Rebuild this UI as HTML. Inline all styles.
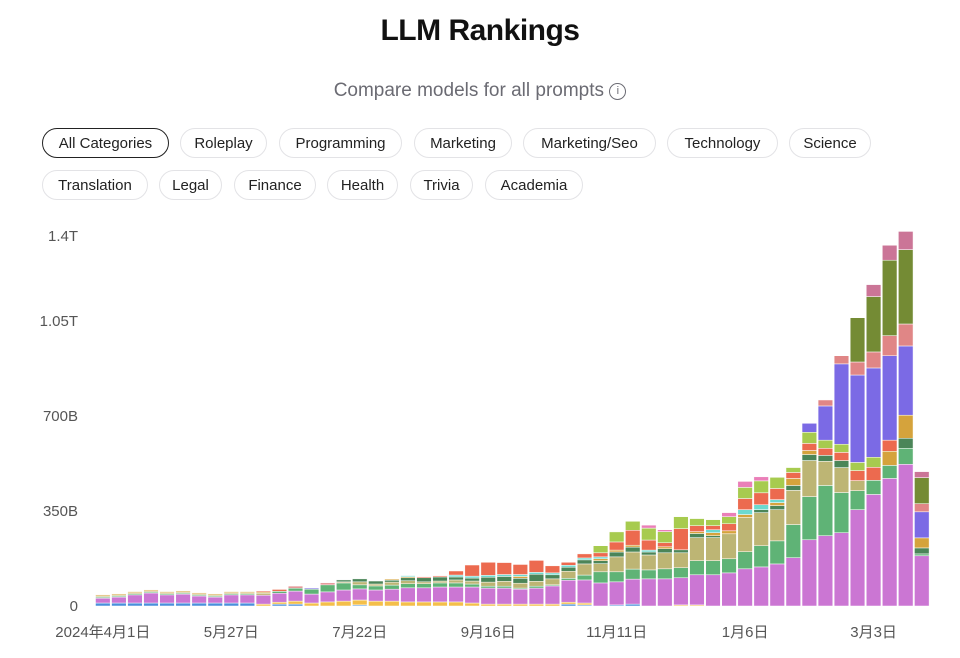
<!DOCTYPE html>
<html><head><meta charset="utf-8">
<style>
body{margin:0;width:960px;height:658px;background:#fff;font-family:"Liberation Sans","Noto Sans CJK JP",sans-serif;overflow:hidden;position:relative}
.title{position:absolute;left:0;width:960px;top:14px;text-align:center;font-size:30px;font-weight:bold;color:#111;letter-spacing:-0.5px}
.sub{position:absolute;left:0;width:960px;top:80px;text-align:center;font-size:19px;color:#6b6b73}
.pill{position:absolute;height:30px;line-height:30px;border:1px solid #e3e3e6;border-radius:16px;text-align:center;font-size:15px;color:#222;box-sizing:border-box;white-space:nowrap}
.pill.active{border:1.5px solid #222}
</style></head><body>
<div class="title">LLM Rankings</div>
<div class="sub">Compare models for all prompts <span style="display:inline-block;width:15px;height:15px;border:1.3px solid #6b6b73;border-radius:50%;font-size:11px;line-height:15px;vertical-align:2px;">i</span></div>
<div>
<div class="pill active" style="left:42px;top:128px;width:127px">All Categories</div>
<div class="pill" style="left:180px;top:128px;width:87px">Roleplay</div>
<div class="pill" style="left:279px;top:128px;width:123px">Programming</div>
<div class="pill" style="left:414px;top:128px;width:98px">Marketing</div>
<div class="pill" style="left:523px;top:128px;width:133px">Marketing/Seo</div>
<div class="pill" style="left:667px;top:128px;width:111px">Technology</div>
<div class="pill" style="left:789px;top:128px;width:82px">Science</div>
<div class="pill" style="left:42px;top:170px;width:106px">Translation</div>
<div class="pill" style="left:159px;top:170px;width:63px">Legal</div>
<div class="pill" style="left:234px;top:170px;width:82px">Finance</div>
<div class="pill" style="left:327px;top:170px;width:71px">Health</div>
<div class="pill" style="left:410px;top:170px;width:63px">Trivia</div>
<div class="pill" style="left:485px;top:170px;width:98px">Academia</div>
</div>
<svg id="chart" width="960" height="658" style="position:absolute;left:0;top:0"></svg>
<script>
const yTicks=[0,350,700,1050,1400];
const yTickLabels=["0","350B","700B","1.05T","1.4T"];
const xTickIndex=[0,8,16,24,32,40,48];
const xTickLabels=["2024年4月1日","5月27日","7月22日","9月16日","11月11日","1月6日","3月3日"];
const seriesNames=["blue","yellow","magenta","green","khaki","darkgreen","gold","teal","red","lightgreen","pink","purple","salmon","olive","mauve"];
const seriesColors=["#4a8fdc","#f4bf4a","#cb76d3","#5fb376","#bdb574","#4b8558","#d5a33c","#6cd9cf","#ec6a4f","#a7cb4f","#ea7fb8","#7b6ae5","#e08686","#748b34","#cb7597"];
const blue=[11,11,11,11,11,11,11,11,11,11,0,7,7,0,0,0,4,0,0,0,0,0,0,0,0,0,0,0,0,7,4,0,4,7,0,0,0,0,0,0,0,0,0,0,0,0,0,0,0,0,0,0];
const yellow=[0,0,0,0,0,0,0,0,0,0,7,7,11,11,15,18,18,18,18,15,15,15,15,11,7,7,7,7,7,7,7,0,0,0,0,0,4,4,0,0,0,0,0,0,0,0,0,0,0,0,0,0];
const magenta=[18,22,30,37,30,33,26,22,30,30,33,33,37,33,37,41,41,41,44,52,52,55,55,59,59,59,55,59,67,81,85,85,85,92,100,100,100,111,115,122,137,144,155,178,244,259,270,355,411,470,522,185];
const green=[4,4,4,4,4,4,4,4,4,4,0,7,11,18,26,26,15,15,15,15,15,15,15,11,7,7,4,7,4,7,18,41,37,37,33,37,37,52,52,52,63,78,85,122,159,185,148,70,52,48,59,7];
const khaki=[4,4,4,4,4,4,4,4,4,4,7,0,0,0,0,4,11,7,11,11,7,7,11,11,15,18,18,18,22,26,41,30,55,63,55,59,55,85,85,92,126,122,115,126,133,89,92,37,0,0,0,0];
const darkgreen=[0,0,0,0,0,0,0,0,0,0,0,0,0,0,0,7,11,11,7,11,15,15,11,11,18,18,18,26,15,15,15,11,18,18,11,15,11,15,7,0,0,11,15,18,22,22,26,0,0,0,37,22];
const gold=[4,4,4,4,4,4,4,4,4,4,4,0,0,0,0,0,0,0,4,4,0,0,0,0,0,0,7,0,0,0,0,7,7,7,0,7,0,7,11,11,11,0,11,26,15,0,0,0,0,52,85,37];
const teal=[0,0,0,0,0,0,0,0,0,0,0,0,0,0,0,0,0,0,0,4,0,0,7,7,7,7,7,7,7,7,7,7,0,0,7,0,0,0,11,0,18,18,11,0,0,0,0,0,0,0,0,0];
const red=[0,0,0,0,0,0,0,0,0,0,4,7,0,0,0,0,0,0,0,0,4,4,15,41,48,44,37,44,26,11,15,15,30,55,37,15,78,22,15,26,41,44,41,22,26,26,30,37,48,41,0,0];
const lightgreen=[0,0,0,0,0,0,0,0,0,0,0,0,0,0,0,0,0,0,0,0,0,0,0,0,0,0,0,0,0,0,0,26,37,33,44,41,44,26,22,26,41,44,41,18,41,30,30,30,37,0,0,0];
const pink=[0,0,0,0,0,0,0,0,0,0,0,0,0,0,0,0,0,0,0,0,0,0,0,0,0,0,0,0,0,0,0,0,0,0,11,7,0,0,0,15,22,15,0,0,0,0,0,0,0,0,0,0];
const purple=[0,0,0,0,0,0,0,0,0,0,0,0,0,4,0,0,0,0,0,0,0,0,0,0,0,0,0,0,0,0,0,0,0,0,0,0,0,0,0,0,0,0,0,0,33,126,296,322,329,311,255,96];
const salmon=[0,0,0,0,0,0,0,0,0,0,0,0,7,0,7,0,0,0,0,0,0,0,0,0,0,0,0,0,0,0,0,0,0,0,0,0,0,0,0,0,0,0,0,0,0,22,30,48,59,74,81,30];
const olive=[0,0,0,0,0,0,0,0,0,0,0,0,0,0,0,0,0,0,0,0,0,0,0,0,0,0,0,0,0,0,0,0,0,0,0,0,0,0,0,0,0,0,0,0,0,0,0,163,204,278,274,96];
const mauve=[0,0,0,0,0,0,0,0,0,0,0,0,0,0,0,0,0,0,0,0,0,0,0,0,0,0,0,0,0,0,0,0,0,0,0,0,0,0,0,0,0,0,0,0,0,0,0,0,44,55,67,22];
const seriesValues=[blue,yellow,magenta,green,khaki,darkgreen,gold,teal,red,lightgreen,pink,purple,salmon,olive,mauve];

const svg=document.getElementById('chart');
const NS='http://www.w3.org/2000/svg';
const nBars=magenta.length;
const y0=606, pxPer=95/350;
const x0=95.5, pitch=(930.5-95.5)/nBars, bw=pitch-1.4;
function yScale(v){return y0-v*pxPer;}
function xScale(i){return x0+i*pitch;}
function mk(tag,attrs){const e=document.createElementNS(NS,tag);for(const k in attrs)e.setAttribute(k,attrs[k]);return e;}

const yAxis=mk('g',{});


svg.appendChild(yAxis);
yTicks.forEach((t,i)=>{
  let yy=yScale(t)+5; if(i===yTicks.length-1) yy+=10;
  const tx=mk('text',{x:78,y:yy,'text-anchor':'end','font-size':'15',fill:'#555','font-family':'Liberation Sans, sans-serif'});
  
  
  tx.textContent=yTickLabels[i];yAxis.appendChild(tx);
});
const xAxis=mk('g',{});


svg.appendChild(xAxis);
xTickIndex.forEach((bi,i)=>{
  const tx=mk('text',{x:xScale(bi)+bw/2,y:637,'text-anchor':'middle','font-size':'15',fill:'#555','font-family':'Liberation Sans, Noto Sans CJK JP, sans-serif'});
  
  
  tx.textContent=xTickLabels[i];xAxis.appendChild(tx);
});
const bars=mk('g',{});


svg.appendChild(bars);
for(let i=0;i<nBars;i++){
  let acc=0;
  const g=mk('g',{});
  
  
  bars.appendChild(g);
  seriesValues.forEach((arr,s)=>{
    const v=arr[i]; if(!v) return;
    const top=yScale(acc+v), bot=yScale(acc);
    const r=mk('rect',{x:xScale(i),y:top,width:bw,height:Math.max(bot-top,0.5),fill:seriesColors[s],stroke:'#fff','stroke-width':0.5});
    
    
    g.appendChild(r);
    acc+=v;
  });
}
</script>
</body></html>
